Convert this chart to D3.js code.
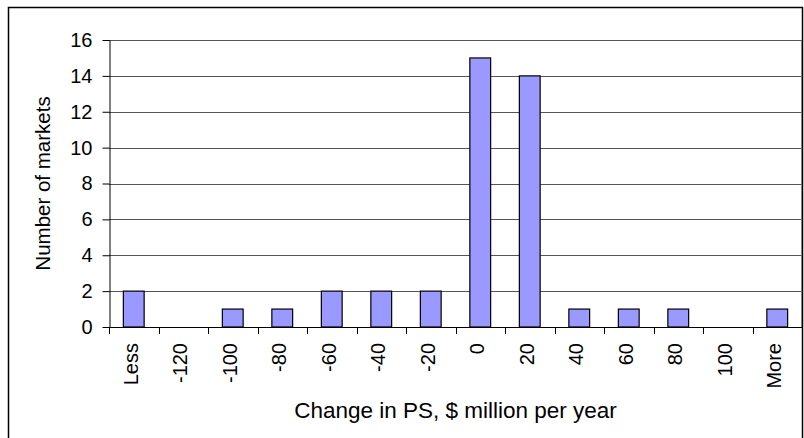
<!DOCTYPE html>
<html>
<head>
<meta charset="utf-8">
<script src="https://cdn.jsdelivr.net/npm/d3@7"></script>
<style>
  body { margin: 0; background: #fff; }
  text { font-family: Arial, "Liberation Sans", sans-serif; fill: #000; }
</style>
</head>
<body>
<div id="chart"></div>
<script>
// data
var categories = ["Less", "-120", "-100", "-80", "-60", "-40", "-20", "0", "20", "40", "60", "80", "100", "More"];
var counts = [2, 0, 1, 1, 2, 2, 2, 15, 14, 1, 1, 1, 0, 1];
var yTicks = [0, 2, 4, 6, 8, 10, 12, 14, 16];

// set the dimensions and margins of the graph
var margin = {top: 40, right: 2, bottom: 111, left: 109},
    width = 804 - margin.left - margin.right,
    height = 438 - margin.top - margin.bottom;

var root = d3.select("#chart")
  .append("svg")
    .attr("width", 804)
    .attr("height", 438);

// outer chart border (bottom edge runs off the picture)
root.append("rect")
  .attr("x", 8.5)
  .attr("y", 7.5)
  .attr("width", 794)
  .attr("height", 450)
  .attr("fill", "none")
  .attr("stroke", "#000")
  .attr("stroke-width", 1.5);

var svg = root.append("g")
  .attr("transform", "translate(" + margin.left + "," + margin.top + ")");

var data = categories.map(function(c, i) { return {group: c, value: counts[i]}; });

// X scale, one band per bin
var x = d3.scaleBand()
  .domain(categories)
  .range([0, width])
  .padding(0);

// Y scale
var y = d3.scaleLinear()
  .domain([0, 16])
  .range([height, 0]);

// gridlines
svg.append("g")
  .selectAll("line")
  .data(yTicks.filter(function(d) { return d > 0; }))
  .enter().append("line")
    .attr("x1", 0)
    .attr("x2", width)
    .attr("y1", function(d) { return Math.round(y(d)) + 0.5; })
    .attr("y2", function(d) { return Math.round(y(d)) + 0.5; })
    .attr("stroke", "#555")
    .attr("stroke-width", 1);

// plot area right border
svg.append("line")
  .attr("x1", width - 0.5)
  .attr("x2", width - 0.5)
  .attr("y1", Math.round(y(16)) + 0.5)
  .attr("y2", height)
  .attr("stroke", "#808080");

// Y axis
var yAxis = svg.append("g")
  .attr("transform", "translate(0.5,0)")
  .call(d3.axisLeft(y).tickValues(yTicks).tickSize(7).tickPadding(10).tickSizeOuter(0));
yAxis.selectAll("text")
  .style("font-size", "20px");
yAxis.select(".domain").attr("stroke", "#000");

svg.append("text")
  .attr("transform", "translate(" + (50 - margin.left) + "," + (height / 2) + ") rotate(-90)")
  .style("text-anchor", "middle")
  .style("font-size", "20.5px")
  .text("Number of markets");

// bars
svg.append("g")
  .selectAll("rect")
  .data(data.filter(function(d) { return d.value > 0; }))
  .enter().append("rect")
    .attr("x", function(d) { return x(d.group) + x.bandwidth() * 0.29; })
    .attr("y", function(d) { return y(d.value); })
    .attr("width", x.bandwidth() * 0.42)
    .attr("height", function(d) { return y(0) - y(d.value); })
    .attr("fill", "#9999FF")
    .attr("stroke", "#000")
    .attr("stroke-width", 1.2);

// X axis line
svg.append("line")
  .attr("x1", 0)
  .attr("x2", width)
  .attr("y1", height + 0.5)
  .attr("y2", height + 0.5)
  .attr("stroke", "#000");

// tick marks sit on the bin boundaries
var bounds = categories.map(function(c) { return x(c); }).concat([width]);
svg.append("g")
  .selectAll("line")
  .data(bounds)
  .enter().append("line")
    .attr("x1", function(d) { return Math.round(d) + 0.5; })
    .attr("x2", function(d) { return Math.round(d) + 0.5; })
    .attr("y1", height)
    .attr("y2", height + 7)
    .attr("stroke", "#000");

// rotated bin labels
svg.append("g")
  .selectAll("text")
  .data(categories)
  .enter().append("text")
    .attr("transform", function(d) {
      return "translate(" + (x(d) + x.bandwidth() / 2) + "," + (height + 16) + ") rotate(-90)";
    })
    .attr("dy", "0.2em")
    .style("text-anchor", "end")
    .style("font-size", "20px")
    .text(function(d) { return d; });

svg.append("text")
  .attr("x", width / 2)
  .attr("y", 418 - margin.top)
  .style("text-anchor", "middle")
  .style("font-size", "22.5px")
  .text("Change in PS, $ million per year");
</script>
</body>
</html>
